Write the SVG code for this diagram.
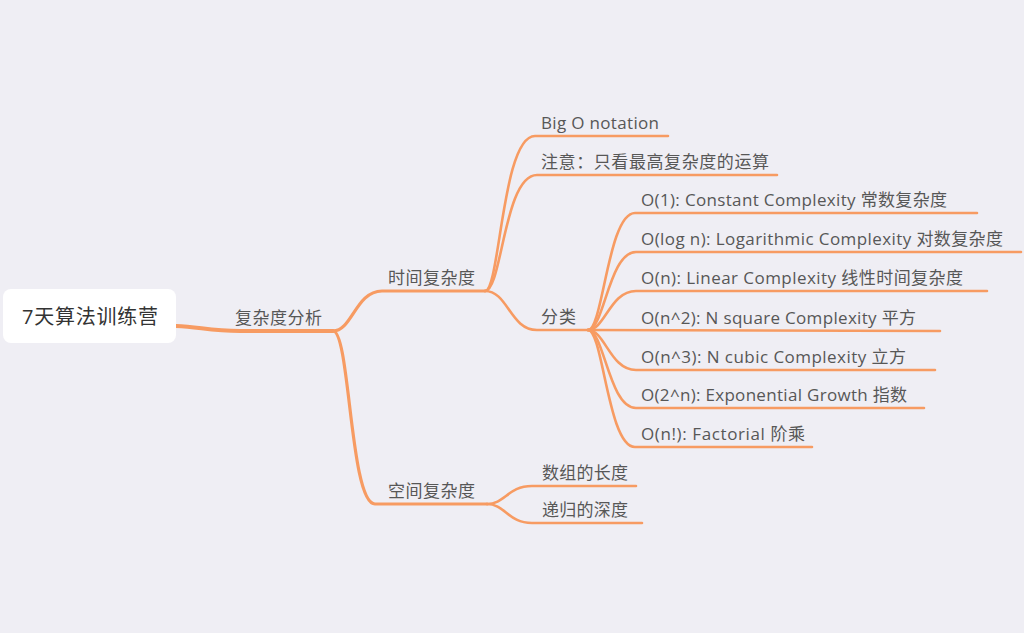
<svg xmlns="http://www.w3.org/2000/svg" width="1024" height="633" viewBox="0 0 1024 633">
<style>
.bg{fill:#EFEEF4}
.ln{fill:none;stroke:#F79B62;stroke-linecap:round;stroke-linejoin:round}
.w4{stroke-width:4}
.w3{stroke-width:3.2}
.w2{stroke-width:2.6}
.t{font-family:"Open Sans","Noto Sans CJK SC",sans-serif;font-size:17px;fill:#575757}
.root{font-family:"Open Sans","Noto Sans CJK SC",sans-serif;font-size:20px;fill:#333333}
</style>
<rect class="bg" x="0" y="0" width="1024" height="633"/>
<g id="connectors">
<path class="ln w4" d="M176,326 C200,327 210,331 240,331 L333,331"/>
<path class="ln w3" d="M333,331 C352,331 356,291 382,291 L485,291"/>
<path class="ln w3" d="M333,331 C350,331 350,504 375,504 L487,504"/>
<path class="ln w2" d="M485,291 C500,291 502,136 535,136 L668,136"/>
<path class="ln w2" d="M485,291 C502,291 504,175 537,175 L777,175"/>
<path class="ln w2" d="M485,291 C508,291 510,330 537,330 L588,330"/>
<path class="ln w2" d="M588,330 C603,330 608,213 635,213 L977,213"/>
<path class="ln w2" d="M588,330 C604,330 609,252 636,252 L1021,252"/>
<path class="ln w2" d="M588,330 C605,330 610,291 636,291 L987,291"/>
<path class="ln w2" d="M588,330 L940,331"/>
<path class="ln w2" d="M588,330 C605,330 610,370 636,370 L935,370"/>
<path class="ln w2" d="M588,330 C604,330 609,408 636,408 L924,408"/>
<path class="ln w2" d="M588,330 C603,330 608,447 635,447 L812,447"/>
<path class="ln w2" d="M487,504 C505,504 508,486 532,486 L636,486"/>
<path class="ln w2" d="M487,504 C505,504 508,523 532,523 L642,523"/>
</g>
<g id="root">
<rect x="3" y="289" width="173" height="54" rx="8" ry="8" fill="#FFFFFF"/>
<text class="root" x="90" y="324" text-anchor="middle" textLength="136">7天算法训练营</text>
</g>
<g id="n-fuzadu"><text class="t" x="235" y="324" textLength="87">复杂度分析</text></g>
<g id="n-time"><text class="t" x="388" y="284" textLength="87">时间复杂度</text></g>
<g id="n-space"><text class="t" x="388" y="497" textLength="87">空间复杂度</text></g>
<g id="n-bigo"><text class="t" x="541" y="129" textLength="118">Big O notation</text></g>
<g id="n-note"><text class="t" x="541" y="168" textLength="228">注意：只看最高复杂度的运算</text></g>
<g id="n-class"><text class="t" x="541" y="323" textLength="35">分类</text></g>
<g id="n-o1"><text class="t" x="641" y="206" textLength="306">O(1): Constant Complexity 常数复杂度</text></g>
<g id="n-ologn"><text class="t" x="641" y="245" textLength="362">O(log n): Logarithmic Complexity 对数复杂度</text></g>
<g id="n-on"><text class="t" x="641" y="284" textLength="322">O(n): Linear Complexity 线性时间复杂度</text></g>
<g id="n-on2"><text class="t" x="641" y="324" textLength="275">O(n^2): N square Complexity 平方</text></g>
<g id="n-on3"><text class="t" x="641" y="363" textLength="265">O(n^3): N cubic Complexity 立方</text></g>
<g id="n-o2n"><text class="t" x="641" y="401" textLength="266">O(2^n): Exponential Growth 指数</text></g>
<g id="n-ofact"><text class="t" x="641" y="440" textLength="164">O(n!): Factorial 阶乘</text></g>
<g id="n-array"><text class="t" x="542" y="479" textLength="86">数组的长度</text></g>
<g id="n-recur"><text class="t" x="542" y="516" textLength="86">递归的深度</text></g>
</svg>
